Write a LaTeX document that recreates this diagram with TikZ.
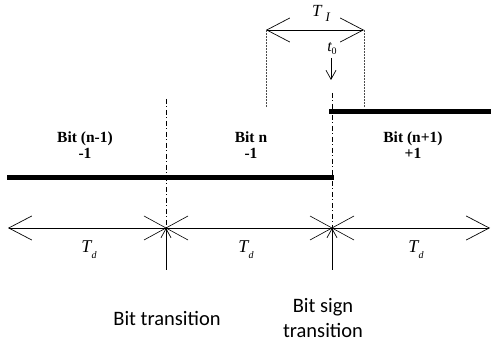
\documentclass[tikz,border=0pt]{standalone}
\usepackage{fontspec}
\setmainfont{Liberation Serif}
\newfontfamily\calfont{Carlito}
\usetikzlibrary{arrows.meta,calc}
\begin{document}
\begin{tikzpicture}[x=1pt,y=-1pt,
  bigbarb/.style={line width=0.7pt,{Straight Barb[length=23pt,width=24pt,line width=0.7pt]}-{Straight Barb[length=23pt,width=24pt,line width=0.7pt]}},
  smallarrow/.style={line width=0.7pt,-{Straight Barb[length=9pt,width=10pt,line width=0.7pt]}},
  signal/.style={line width=5pt},
  dashdot/.style={line width=0.6pt,dash pattern=on 5pt off 2.5pt on 1pt off 2.5pt},
  dotline/.style={line width=0.5pt,densely dotted,black!70},
  cross/.style={line width=0.6pt},
  bitlabel/.style={font=\fontsize{15.5}{16}\selectfont\bfseries,align=center,inner sep=0pt},
  tlabel/.style={font=\fontsize{18}{18}\selectfont\itshape,inner sep=0pt},
  translabel/.style={font=\calfont\fontsize{20.5}{25}\selectfont,align=center,inner sep=0pt}]
\useasboundingbox (0,0) rectangle (491,342);

% key coordinates
\coordinate (c1) at (166,228);
\coordinate (c2) at (332,228);
\coordinate (axL) at (8,228);
\coordinate (axR) at (490,228);
\coordinate (d1top) at (166,99);
\coordinate (d2top) at (332,93);
\coordinate (a1low) at (166,270);
\coordinate (a2low) at (332,270);
\coordinate (lowL) at (7,178);
\coordinate (lowR) at (334,178);
\coordinate (highL) at (329,112);
\coordinate (highR) at (491,112);
\coordinate (tiL) at (266,30);
\coordinate (tiR) at (364,30);
\coordinate (tiLb) at (266,108);
\coordinate (tiRb) at (364,108);
\coordinate (t0top) at (331,58);
\coordinate (t0bot) at (331,80);

% signal levels
\draw[signal] (lowL) -- (lowR);
\draw[signal] (highL) -- (highR);

% bit boundaries
\draw[dashdot] (d1top) -- (c1);
\draw[dashdot] (d2top) -- (c2);

% time axis
\draw[bigbarb] (axL) -- (axR);
\draw[cross] ($(c1)+(-22,-12)$) -- ($(c1)+(22,12)$);
\draw[cross] ($(c1)+(-22,12)$) -- ($(c1)+(22,-12)$);
\draw[cross] ($(c2)+(-22,-12)$) -- ($(c2)+(22,12)$);
\draw[cross] ($(c2)+(-22,12)$) -- ($(c2)+(22,-12)$);
\draw[smallarrow] (a1low) -- (c1);
\draw[smallarrow] (a2low) -- (c2);

% T_I interval
\draw[bigbarb] (tiL) -- (tiR);
\draw[dotline] (tiL) -- (tiLb);
\draw[dotline] (tiR) -- (tiRb);
\draw[smallarrow] (t0top) -- (t0bot);

% labels
\node[bitlabel] (b1) at (85,145) {Bit (n-1)\\-1};
\node[bitlabel] (b2) at (251,145) {Bit n\\-1};
\node[bitlabel] (b3) at (413,145) {Bit (n+1)\\+1};
\node[tlabel] (td1) at (89,250) {T\raisebox{-6pt}{\fontsize{10}{10}\selectfont d}};
\node[tlabel] (td2) at (246,250) {T\raisebox{-6pt}{\fontsize{10}{10}\selectfont d}};
\node[tlabel] (td3) at (416,250) {T\raisebox{-6pt}{\fontsize{10}{10}\selectfont d}};
\node[tlabel,font=\fontsize{17}{17}\selectfont\itshape] (ti) at (321,13) {T\hspace{4pt}\raisebox{-5pt}{\fontsize{13}{13}\selectfont I}};
\node[tlabel,font=\fontsize{16}{16}\selectfont\itshape] (t0) at (332,49) {t\raisebox{-3pt}{\fontsize{10}{10}\selectfont\upshape 0}};
\node[translabel] (bt) at (167,318) {Bit transition};
\node[translabel] (bst) at (323,318) {Bit sign\\transition};
\end{tikzpicture}
\end{document}
